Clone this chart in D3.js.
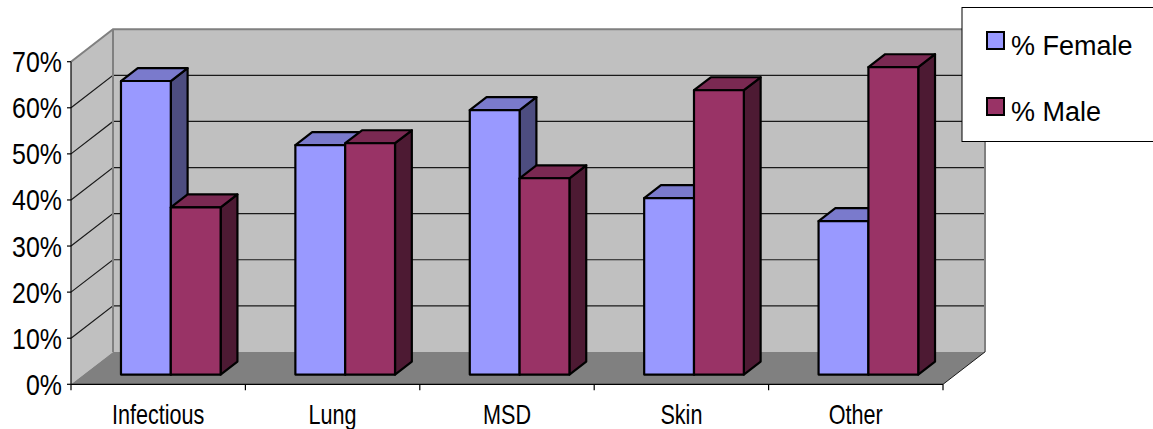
<!DOCTYPE html>
<html>
<head>
<meta charset="utf-8">
<script src="https://cdn.jsdelivr.net/npm/d3@7"></script>
<style>
  html, body { margin: 0; padding: 0; background: #fff; }
  svg { display: block; }
  .narrow { font-family: "Liberation Sans Narrow", "Arial Narrow", "Liberation Sans", Arial, sans-serif; }
  .legend-text { font-family: "Liberation Sans", Arial, sans-serif; }
</style>
</head>
<body>
<svg id="chart" width="1153" height="429"></svg>
<script>
// Share of cases by sex for each disease group
const categories = ["Infectious", "Lung", "MSD", "Skin", "Other"];
const seriesNames = ["% Female", "% Male"];
const femaleValues = [0.637, 0.498, 0.574, 0.383, 0.333];
const maleValues = [0.363, 0.502, 0.426, 0.617, 0.667];
const yTicks = [0, 0.1, 0.2, 0.3, 0.4, 0.5, 0.6, 0.7];

const faceColors = {
  "% Female": { front: "#9999ff", top: "#7a7acc", side: "#4d4d80" },
  "% Male": { front: "#993366", top: "#7a2952", side: "#4d1a33" }
};

const svg = d3.select("#chart");

// Condensed axis lettering: horizontal squeeze of the sans face
const squeeze = (sel, px, py, sx) => sel.attr("transform", `translate(${px},${py}) scale(${sx},1)`);

// Oblique projection of the plot box: front plane and depth offset
const front = { left: 71, right: 943, top: 61.7, bottom: 384.3 };
const DX = 42, DY = 32.4;

const x = d3.scaleBand().domain(categories).range([front.left, front.right]).padding(0);
const xs = d3.scaleBand().domain(seriesNames).range([0, x.bandwidth()]).paddingInner(0).paddingOuter(0.75);
const y = d3.scaleLinear().domain([0, 0.7]).range([front.bottom, front.top]);

// depth fraction d: 0 = front plane, 1 = back wall
const P = (px, py, d) => [px + DX * d, py - DY * d];
const poly = pts => "M" + pts.map(p => p.join(",")).join("L") + "Z";

// Walls and floor
const g = svg.append("g");
g.append("path") // left side wall
  .attr("d", poly([P(front.left, y(0), 0), P(front.left, y(0.7), 0), P(front.left, y(0.7), 1), P(front.left, y(0), 1)]))
  .attr("fill", "#c0c0c0");
g.append("path") // back wall
  .attr("d", poly([P(front.left, y(0.7), 1), P(front.right, y(0.7), 1), P(front.right, y(0), 1), P(front.left, y(0), 1)]))
  .attr("fill", "#c0c0c0");
g.append("path") // floor
  .attr("d", poly([P(front.left, y(0), 0), P(front.right, y(0), 0), P(front.right, y(0), 1), P(front.left, y(0), 1)]))
  .attr("fill", "#808080");

// Gridlines along side wall and back wall
yTicks.filter(t => t > 0 && t < 0.7).forEach(t => {
  const a = P(front.left, y(t), 0), b = P(front.left, y(t), 1), c = P(front.right, y(t), 1);
  g.append("path").attr("d", `M${a}L${b}L${c}`)
    .attr("fill", "none").attr("stroke", "#1a1a1a").attr("stroke-width", 1.2);
});

// Wall edges
g.append("path")
  .attr("d", `M${P(front.left, y(0.7), 0)}L${P(front.left, y(0.7), 1)}L${P(front.right, y(0.7), 1)}L${P(front.right, y(0), 1)}`)
  .attr("fill", "none").attr("stroke", "#808080").attr("stroke-width", 2);
g.append("path")
  .attr("d", `M${P(front.left, y(0), 1)}L${P(front.left, y(0.7), 1)}`)
  .attr("fill", "none").attr("stroke", "#808080").attr("stroke-width", 2);
g.append("path")
  .attr("d", `M${P(front.right, y(0), 0)}L${P(front.right, y(0), 1)}`)
  .attr("fill", "none").attr("stroke", "#1a1a1a").attr("stroke-width", 1);

// Value axis
const yAxis = svg.append("g");
yAxis.append("line").attr("x1", front.left).attr("x2", front.left)
  .attr("y1", y(0.7)).attr("y2", y(0)).attr("stroke", "#000").attr("stroke-width", 1.2);
yTicks.forEach(t => {
  yAxis.append("line").attr("x1", front.left - 4).attr("x2", front.left)
    .attr("y1", y(t)).attr("y2", y(t)).attr("stroke", "#000").attr("stroke-width", 1.2);
  yAxis.append("text").attr("class", "narrow")
    .attr("text-anchor", "end").attr("font-size", 29).attr("fill", "#000")
    .call(squeeze, front.left - 9, y(t) + 10.5, 0.86)
    .text(d3.format(".0%")(t));
});

// Category axis
const xAxis = svg.append("g");
xAxis.append("line").attr("x1", front.left).attr("x2", front.right)
  .attr("y1", y(0)).attr("y2", y(0)).attr("stroke", "#000").attr("stroke-width", 1.2);
const boundaries = categories.map(c => x(c)).concat([front.right]);
boundaries.forEach(bx => {
  xAxis.append("line").attr("x1", bx).attr("x2", bx)
    .attr("y1", y(0)).attr("y2", y(0) + 6).attr("stroke", "#000").attr("stroke-width", 1.2);
});
categories.forEach(c => {
  xAxis.append("text").attr("class", "narrow")
    .attr("text-anchor", "middle").attr("font-size", 27).attr("fill", "#000")
    .call(squeeze, x(c) + x.bandwidth() / 2, 424, 0.8)
    .text(c);
});

// 3D columns: each sits between depth 0.3 and 0.7 of the plot depth
const D0 = 0.3, D1 = 0.7;
const bars = svg.append("g");
categories.forEach((c, i) => {
  [["% Female", femaleValues[i]], ["% Male", maleValues[i]]].forEach(([s, v]) => {
    const x0 = x(c) + xs(s), x1 = x0 + xs.bandwidth();
    const yt = y(v), yb = y(0);
    const col = faceColors[s];
    const gb = bars.append("g").attr("stroke", "#000").attr("stroke-width", 2.2).attr("stroke-linejoin", "round");
    gb.append("path")
      .attr("d", poly([P(x1, yt, D0), P(x1, yt, D1), P(x1, yb, D1), P(x1, yb, D0)]))
      .attr("fill", col.side);
    gb.append("path")
      .attr("d", poly([P(x0, yt, D0), P(x1, yt, D0), P(x1, yt, D1), P(x0, yt, D1)]))
      .attr("fill", col.top);
    gb.append("path")
      .attr("d", poly([P(x0, yt, D0), P(x1, yt, D0), P(x1, yb, D0), P(x0, yb, D0)]))
      .attr("fill", col.front);
  });
});

// Legend
const lg = svg.append("g");
lg.append("rect").attr("x", 962).attr("y", 7.5).attr("width", 200).attr("height", 134)
  .attr("fill", "#fff").attr("stroke", "#000").attr("stroke-width", 1);
seriesNames.forEach((s, i) => {
  const yy = 32 + i * 66;
  lg.append("rect").attr("x", 987).attr("y", yy).attr("width", 17).attr("height", 17)
    .attr("fill", faceColors[s].front).attr("stroke", "#000").attr("stroke-width", 2);
  lg.append("text").attr("class", "legend-text")
    .attr("x", 1011).attr("y", yy + 23).attr("font-size", 27).attr("fill", "#000")
    .text(s);
});
</script>
</body>
</html>
